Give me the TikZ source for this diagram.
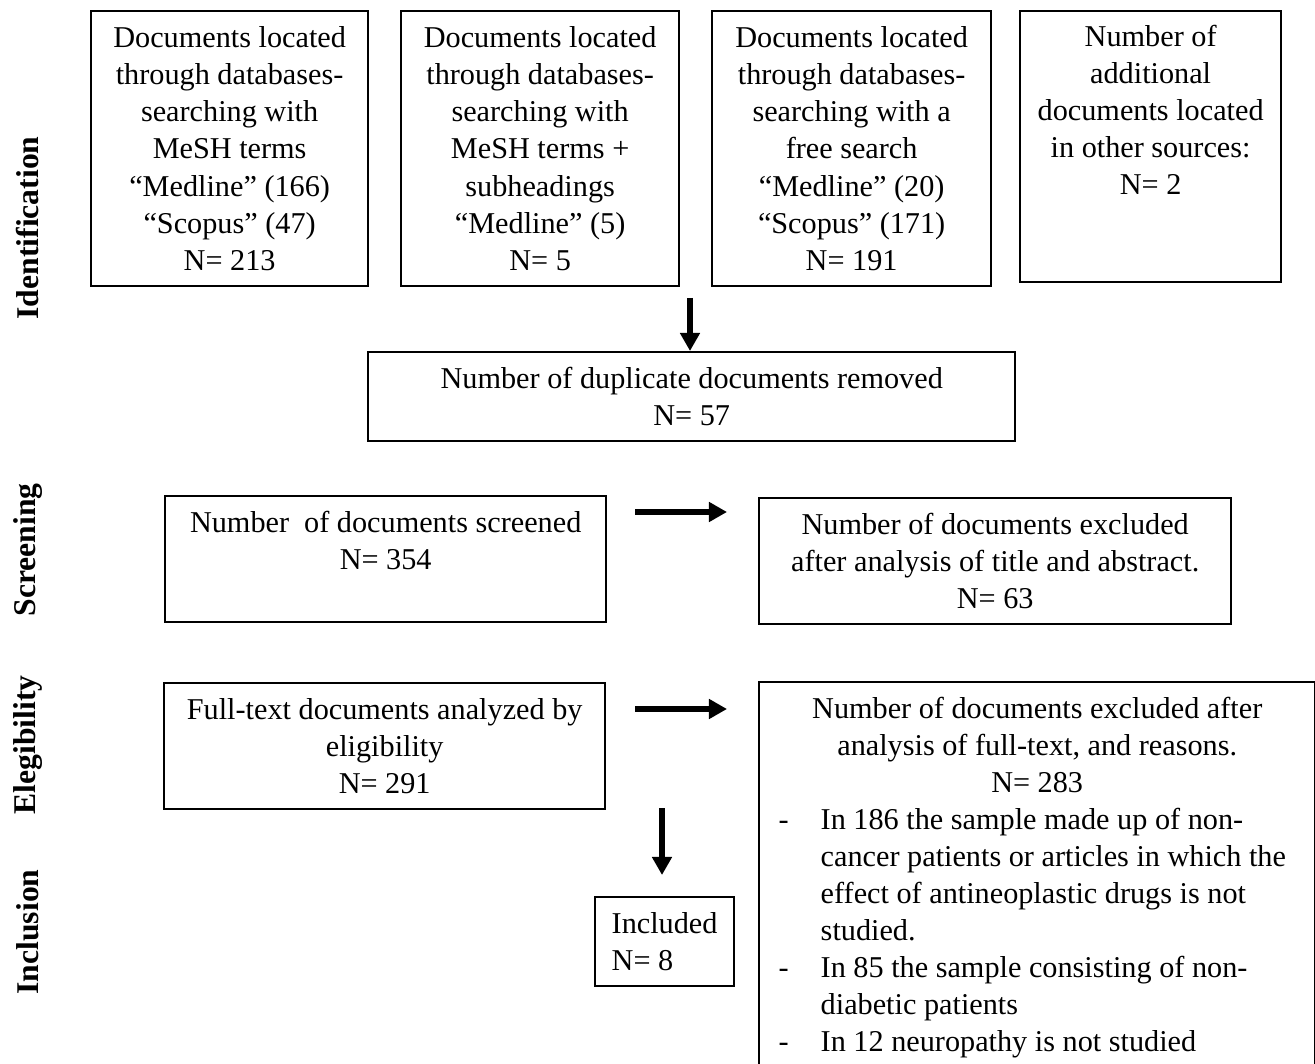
\documentclass[tikz,border=0pt]{standalone}
\usepackage{fontspec}
\setmainfont{Liberation Serif}
\usetikzlibrary{arrows.meta}
\newcommand\bxfont{\fontsize{8.6}{10.53}\selectfont}
\newcommand\sdfont{\fontsize{9}{11}\selectfont\bfseries}
\begin{document}
\begin{tikzpicture}[x=0.01cm,y=-0.01cm,
  box/.style={draw,line width=0.6pt,anchor=north west,inner sep=0pt,align=center,font=\bxfont},
  txt/.style={inner sep=0pt,font=\bxfont},
  side/.style={rotate=90,font=\sdfont,inner sep=0pt},
  arr/.style={line width=1.8pt,-{Triangle[length=0.18cm,width=0.19cm]}}]
\useasboundingbox (0,0) rectangle (1315,1064);

% side labels
\node[side] (lid) at (28,228) {Identification};
\node[side] (lsc) at (28,550) {Screening};
\node[side] (lel) at (28,745) {Elegibility};
\node[side] (lin) at (28,932) {Inclusion};

% identification boxes
\node[box,minimum width=2.77cm,minimum height=2.75cm] (b1) at (90,10)
  {Documents located\\through databases-\\searching with\\MeSH terms\\“Medline” (166)\\“Scopus” (47)\\N= 213};
\node[box,minimum width=2.78cm,minimum height=2.75cm] (b2) at (400,10)
  {Documents located\\through databases-\\searching with\\MeSH terms +\\subheadings\\“Medline” (5)\\N= 5};
\node[box,minimum width=2.79cm,minimum height=2.75cm] (b3) at (711,10)
  {Documents located\\through databases-\\searching with a\\free search\\“Medline” (20)\\“Scopus” (171)\\N= 191};
\node[box,minimum width=2.61cm,minimum height=2.71cm] (b4) at (1019,10) {};
\node[txt,anchor=north,align=center] (b4t) at ([yshift=-0.14cm]b4.north)
  {Number of\\additional\\documents located\\in other sources:\\N= 2};

% duplicates
\node[box,minimum width=6.47cm,minimum height=0.89cm] (dup) at (367,351)
  {Number of duplicate documents removed\\N= 57};

% screening
\node[box,minimum width=4.41cm,minimum height=1.26cm] (scr) at (164,495) {};
\node[txt,anchor=north,align=center] (scrt) at ([yshift=-0.15cm]scr.north)
  {Number~ of documents screened\\N= 354};
\node[box,minimum width=4.72cm,minimum height=1.26cm] (exc) at (758,497)
  {Number of documents excluded\\after analysis of title and abstract.\\N= 63};

% eligibility
\node[box,minimum width=4.41cm,minimum height=1.26cm] (ful) at (163,682)
  {Full-text documents analyzed by\\eligibility\\N= 291};
\node[box,minimum width=5.56cm,minimum height=4.1cm] (ex2) at (758,681) {};
\node[txt,anchor=north,align=center] (ex2h) at ([yshift=-0.15cm]ex2.north)
  {Number of documents excluded after\\analysis of full-text, and reasons.\\N= 283};
\node[txt,anchor=north west,align=left] (ex2l) at (778,807)
  {\makebox[0.42cm][l]{-}In 186 the sample made up of non-\\
   \hspace*{0.42cm}cancer patients or articles in which the\\
   \hspace*{0.42cm}effect of antineoplastic drugs is not\\
   \hspace*{0.42cm}studied.\\
   \makebox[0.42cm][l]{-}In 85 the sample consisting of non-\\
   \hspace*{0.42cm}diabetic patients\\
   \makebox[0.42cm][l]{-}In 12 neuropathy is not studied};

% inclusion
\node[box,minimum width=1.39cm,minimum height=0.89cm,align=left] (inc) at (594,896)
  {Included\\N= 8};

% arrows
\coordinate (a1s) at (690,298);
\draw[arr] (a1s) -- (a1s |- dup.north);
\coordinate (a2s) at (635,512);
\coordinate (a2e) at (727,512);
\draw[arr] (a2s) -- (a2e);
\coordinate (a3s) at (635,709);
\coordinate (a3e) at (727,709);
\draw[arr] (a3s) -- (a3e);
\coordinate (a4s) at (662,808);
\coordinate (a4e) at (662,875);
\draw[arr] (a4s) -- (a4e);
\end{tikzpicture}
\end{document}
